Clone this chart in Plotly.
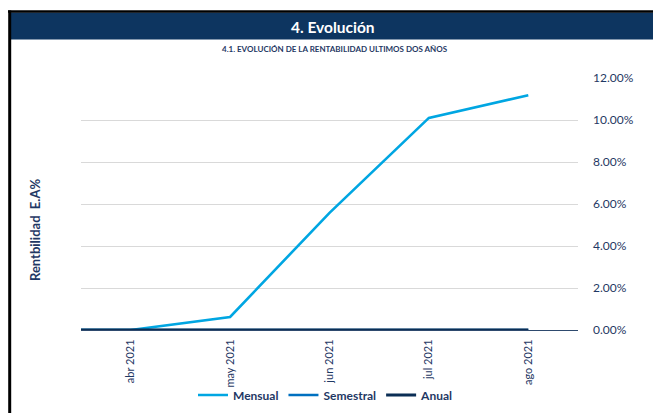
import plotly.graph_objects as go

# Data
months = ["mar 2021", "abr 2021", "may 2021", "jun 2021", "jul 2021", "ago 2021"]
mensual = [0.0, 0.0, 0.0062, 0.0558, 0.1010, 0.1118]
semestral = [0.0, 0.0, 0.0, 0.0, 0.0, 0.0]
anual = [0.0, 0.0, 0.0, 0.0, 0.0, 0.0]
y_ticks = [0.0, 0.02, 0.04, 0.06, 0.08, 0.10, 0.12]

W, H = 653, 413
L, R, T, B = 81, 578, 78, 330  # plot area in pixels
pw, ph = R - L, B - T


def px(x):
    return (x - L) / pw


def py(y):
    return (B - y) / ph


NAVY = "#1F3864"
FONT = "Lato"

fig = go.Figure()
fig.add_trace(go.Scatter(x=months, y=mensual, mode="lines", name="Mensual",
                         line=dict(color="#00A6E2", width=2.6)))
fig.add_trace(go.Scatter(x=months, y=semestral, mode="lines", name="Semestral",
                         line=dict(color="#0070C0", width=2.6)))
fig.add_trace(go.Scatter(x=months, y=anual, mode="lines", name="Anual",
                         line=dict(color="#0B2E55", width=3.2)))

fig.update_layout(
    width=W, height=H,
    margin=dict(l=L, r=W - R, t=T, b=H - B, pad=0, autoexpand=False),
    paper_bgcolor="white", plot_bgcolor="white",
    font=dict(family=FONT, color=NAVY, size=11),
    showlegend=True,
    legend=dict(orientation="h", x=px(326), xanchor="center", y=py(395), yanchor="middle",
                bgcolor="rgba(0,0,0,0)",
                font=dict(family=FONT, size=12, color=NAVY, weight="bold"),
                itemwidth=30, tracegroupgap=0),
    xaxis=dict(type="category", categoryorder="array", categoryarray=months,
               range=[0.5, len(months) - 0.5],
               tickvals=months[1:], ticktext=months[1:],
               tickangle=-90, showgrid=False, zeroline=False,
               showline=True, linecolor="#2E4A6E", linewidth=1,
               ticks="", ticklabelstandoff=4,
               tickfont=dict(family=FONT, size=11, color=NAVY)),
    yaxis=dict(side="right", range=[0, 0.12], tickvals=y_ticks, tickformat=".2%",
               showgrid=True, gridcolor="#D9D9D9", gridwidth=1, zeroline=False,
               showline=False, ticks="", ticklabelstandoff=14,
               tickfont=dict(family=FONT, size=12, color=NAVY)),
)

shapes = [
    # header bar
    dict(type="rect", xref="paper", yref="paper", x0=px(11), x1=px(653), y0=py(39.5), y1=py(12.5),
         fillcolor="#0D3560", line=dict(width=0), layer="above"),
    # black top border
    dict(type="line", xref="paper", yref="paper", x0=px(8), x1=px(653), y0=py(11.5), y1=py(11.5),
         line=dict(color="black", width=2.5)),
    # black left border
    dict(type="line", xref="paper", yref="paper", x0=px(9.7), x1=px(9.7), y0=py(10.5), y1=py(420),
         line=dict(color="black", width=3)),
]
fig.update_layout(shapes=shapes)

fig.add_annotation(text="<b>4. Evolución</b>", xref="paper", yref="paper",
                   x=px(333), y=py(26.5), showarrow=False, xanchor="center", yanchor="middle",
                   font=dict(family=FONT, size=15.5, color="white"))
fig.add_annotation(text="<b>4.1. EVOLUCIÓN DE LA RENTABILIDAD ULTIMOS DOS AÑOS</b>", xref="paper", yref="paper",
                   x=px(335), y=py(49.5), showarrow=False, xanchor="center", yanchor="middle",
                   font=dict(family=FONT, size=8, color=NAVY))
fig.add_annotation(text="<b>Rentbilidad\u00a0 E.A%</b>", xref="paper", yref="paper",
                   x=px(35), y=py(230), showarrow=False, textangle=-90,
                   xanchor="center", yanchor="middle",
                   font=dict(family=FONT, size=13, color=NAVY))

fig.write_html("out.html", config={"displayModeBar": False},
               post_script="document.body.style.margin='0';document.body.style.overflow='hidden';")
